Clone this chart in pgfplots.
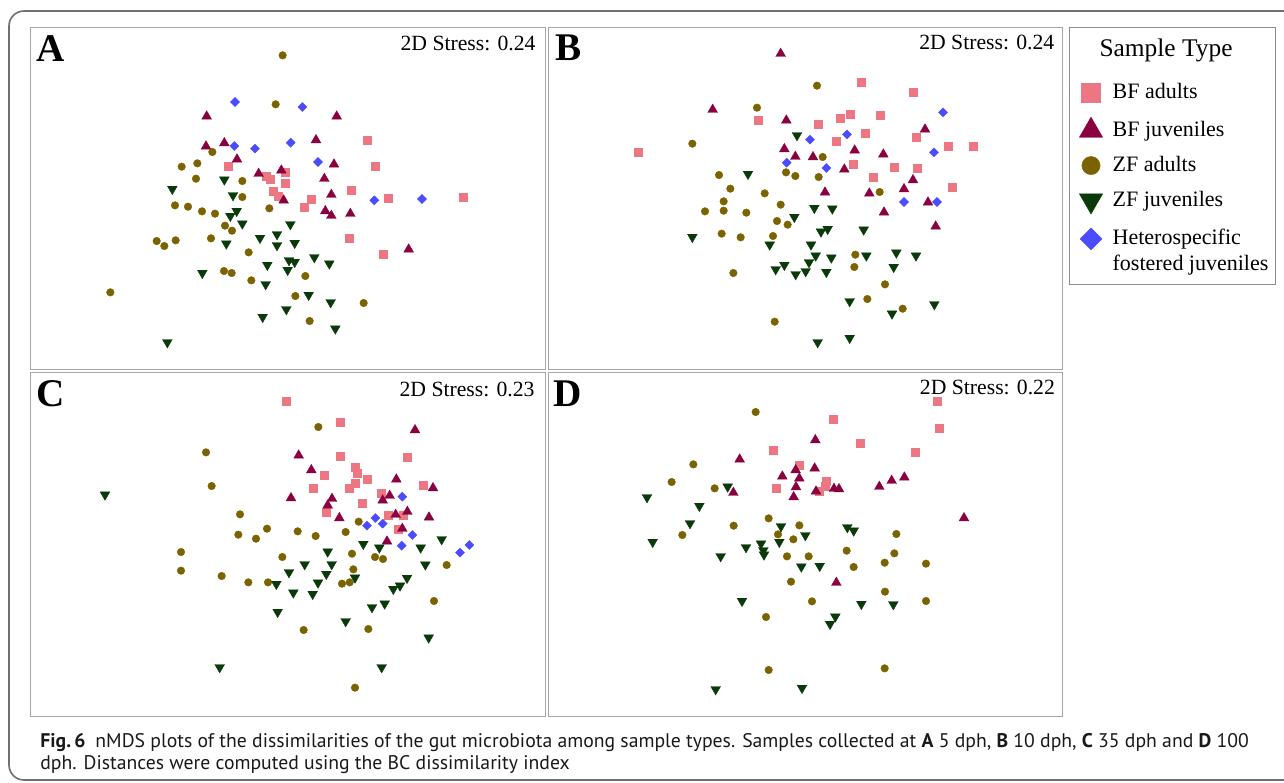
\documentclass[border=0pt]{standalone}
\usepackage{fontspec}
\setmainfont{Liberation Serif}
\newfontfamily\capfont{PT Sans}
\usepackage{pgfplots}
\pgfplotsset{compat=1.18}

\definecolor{bfa}{RGB}{236,118,130}
\definecolor{bfj}{RGB}{138,0,64}
\definecolor{zfa}{RGB}{122,99,0}
\definecolor{zfj}{RGB}{10,58,10}
\definecolor{het}{RGB}{75,75,255}
\definecolor{framegray}{RGB}{112,112,112}

% 1 px of the reference = 0.5pt; data are in 1/3 px units, y downwards
\pgfplotsset{
  panel/.style={
    scale only axis, anchor=north west,
    width=257.5pt, xmin=0, xmax=1545,
    ymin=0, y dir=reverse,
    xtick=\empty, ytick=\empty,
    axis line style={draw=black!35, line width=0.5pt},
    clip=false,
  },
  bfa/.style={only marks, mark=square*, mark size=2pt,
    mark options={draw=bfa, fill=bfa, line width=0.2pt}},
  bfj/.style={only marks, mark=triangle*, mark size=2.8pt,
    mark options={draw=bfj, fill=bfj, line width=0.2pt}},
  zfa/.style={only marks, mark=*, mark size=1.9pt,
    mark options={draw=zfa, fill=zfa, line width=0.2pt}},
  zfj/.style={only marks, mark=triangle*, mark size=2.8pt,
    mark options={rotate=180, draw=zfj, fill=zfj, line width=0.2pt}},
  het/.style={only marks, mark=square*, mark size=1.6pt,
    mark options={rotate=45, draw=het, fill=het, line width=0.2pt}},
}
\newcommand{\stress}{\fontsize{10.85}{12}\selectfont}
\newcommand{\letter}{\fontsize{19.6}{20}\selectfont\bfseries}
\newcommand{\capsize}{\capfont\fontsize{9.85}{11}\selectfont}

\begin{document}
\begin{tikzpicture}
\useasboundingbox (0,0) rectangle (642pt,-391pt);
\draw[framegray, line width=0.8pt, rounded corners=7.5pt] (4.5pt,-390pt) rectangle (670pt,-5.5pt);

% ---- A : 5 dph
\begin{axis}[panel, at={(15pt,-13.5pt)}, height=171pt, ymax=1026]
\addplot[bfa] coordinates {(1012,341) (1035,418) (596,417) (767,436) (710,448) (720,458) (765,470) (731,492) (745,507) (964,490) (845,517) (823,540) (1076,513) (1299,510) (958,635) (1060,681)};
\addplot[bfj] coordinates {(530,268) (920,268) (528,358) (583,348) (858,339) (621,397) (912,412) (686,440) (754,430) (883,455) (904,503) (761,520) (886,552) (904,566) (961,560) (1136,667)};
\addplot[zfa] coordinates {(758,85) (737,232) (547,375) (455,419) (502,409) (498,455) (637,462) (637,510) (435,535) (474,539) (516,553) (555,560) (718,544) (585,596) (606,611) (543,634) (380,642) (403,657) (437,640) (656,676) (582,732) (605,738) (664,760) (826,747) (796,807) (1001,828) (839,882) (241,796)};
\addplot[zfj] coordinates {(427,486) (583,458) (609,505) (620,552) (601,567) (637,590) (781,592) (741,622) (690,633) (589,650) (741,655) (794,648) (777,700) (794,705) (853,691) (898,710) (712,714) (773,729) (517,738) (707,772) (836,804) (902,826) (769,847) (698,870) (916,905) (412,946)};
\addplot[het] coordinates {(615,225) (817,240) (613,357) (675,365) (782,347) (864,405) (1033,520) (1176,516)};
\node[anchor=base west, inner sep=0pt, font=\letter] at (axis cs:18,102) {A};
\node[anchor=base east, inner sep=0pt, font=\stress] at (axis cs:1518,70) {2D Stress: 0.24};
\end{axis}

% ---- B : 10 dph (carries the legend)
\begin{axis}[panel, at={(274pt,-13.5pt)}, width=257pt, xmax=1542, height=171pt, ymax=1026,
  legend style={at={(1.033,0.84)}, anchor=north west, draw=none, fill=none,
    inner sep=0pt, row sep=7pt, column sep=5pt,
    font=\fontsize{11}{13}\selectfont,
    nodes={inner sep=0pt, text height=8pt, text depth=2.5pt}},
  legend cell align=left,
  legend image code/.code={\draw[mark repeat=2, mark phase=2, #1,
    every mark/.append style={scale=2.4}]
    plot coordinates {(0cm,0cm) (0.3cm,0cm) (0.6cm,0cm)};},
]
\addplot[bfa] coordinates {(940,165) (1097,196) (631,281) (811,293) (876,273) (907,263) (998,264) (953,318) (866,344) (1106,331) (1201,358) (1275,359) (917,411) (1040,421) (1108,423) (977,452) (1214,480) (271,376)};
\addlegendentry{BF adults}
\addplot[bfj] coordinates {(698,80) (494,248) (715,280) (709,366) (742,389) (795,390) (920,370) (1006,382) (1131,307) (889,427) (1095,459) (1068,486) (831,496) (964,499) (1140,526) (1008,556) (1163,598)};
\addlegendentry{BF juveniles}
\addplot[zfa] coordinates {(807,176) (627,242) (433,350) (824,390) (714,436) (742,447) (812,450) (513,444) (547,485) (650,499) (527,523) (471,553) (527,551) (595,557) (698,533) (687,582) (719,593) (521,620) (578,631) (675,627) (995,495) (922,683) (919,720) (556,738) (1011,772) (958,816) (1064,845) (680,884)};
\addlegendentry{ZF adults}
\addplot[zfj] coordinates {(747,325) (600,441) (433,630) (799,543) (853,545) (739,570) (819,614) (839,606) (947,608) (665,653) (789,653) (803,686) (850,692) (955,686) (1045,677) (1104,686) (783,706) (709,714) (683,727) (743,742) (773,733) (835,735) (1037,720) (905,823) (1032,860) (1159,832) (809,946) (905,933)};
\addlegendentry{ZF juveniles}
\addplot[het] coordinates {(786,338) (897,322) (1185,256) (1158,376) (716,407) (835,423) (1068,525) (1167,525)};
\addlegendentry{\begin{tabular}[t]{@{}l@{}}Heterospecific\\fostered juveniles\end{tabular}}
\node[anchor=base west, inner sep=0pt, font=\letter] at (axis cs:20,100) {B};
\node[anchor=base east, inner sep=0pt, font=\stress] at (axis cs:1520,68) {2D Stress: 0.24};
\end{axis}

% ---- C : 35 dph
\begin{axis}[panel, at={(15pt,-186pt)}, height=172pt, ymax=1032]
\addplot[bfa] coordinates {(770,88) (930,151) (932,252) (1132,255) (884,310) (976,286) (982,305) (1013,322) (976,335) (957,348) (850,348) (1180,340) (1055,365) (998,393) (888,421) (1074,430) (1121,430) (1104,471)};
\addplot[bfj] coordinates {(1155,174) (806,250) (844,294) (1099,322) (1209,348) (783,378) (906,380) (893,400) (1058,385) (1079,371) (928,438) (1097,428) (1132,419) (1197,436) (1117,470) (1071,508)};
\addplot[zfa] coordinates {(865,165) (528,241) (545,342) (630,427) (711,470) (625,488) (678,500) (803,478) (857,492) (947,480) (986,449) (453,540) (453,596) (757,555) (966,545) (1035,555) (1059,561) (575,612) (655,631) (714,631) (970,592) (936,635) (959,631) (1250,579) (1212,687) (821,774) (1015,771) (975,947)};
\addplot[zfj] coordinates {(225,368) (1000,516) (1048,527) (893,539) (1172,527) (1235,502) (824,577) (905,577) (1186,578) (777,601) (889,606) (975,617) (864,632) (739,636) (1131,618) (1110,641) (1090,651) (790,662) (848,666) (1026,706) (1064,695) (743,720) (947,748) (1196,797) (569,886) (1055,886)};
\addplot[het] coordinates {(1117,374) (1036,438) (1058,455) (1011,461) (1147,489) (1115,521) (1318,519) (1290,542)};
\node[anchor=base west, inner sep=0pt, font=\letter] at (axis cs:18,102) {C};
\node[anchor=base east, inner sep=0pt, font=\stress] at (axis cs:1515,72) {2D Stress: 0.23};
\end{axis}

% ---- D : 100 dph
\begin{axis}[panel, at={(274pt,-186pt)}, width=257pt, xmax=1542, height=172pt, ymax=1032]
\addplot[bfa] coordinates {(1167,88) (857,141) (1173,170) (938,215) (1101,242) (676,236) (754,280) (834,328) (832,342) (813,358) (685,348)};
\addplot[bfj] coordinates {(802,204) (575,262) (743,294) (800,289) (703,313) (754,319) (744,345) (737,375) (804,358) (858,350) (873,351) (994,344) (1031,326) (1069,316) (556,362) (1248,438) (865,632)};
\addplot[zfa] coordinates {(623,120) (436,277) (371,330) (500,349) (662,439) (557,461) (754,460) (403,489) (690,487) (736,502) (1045,486) (717,553) (782,553) (896,536) (1039,544) (1010,572) (917,585) (1134,575) (729,629) (1011,659) (792,688) (1134,687) (654,735) (662,894) (1010,889)};
\addplot[zfj] coordinates {(539,344) (297,376) (454,402) (426,454) (314,510) (518,553) (594,526) (639,515) (646,535) (648,548) (699,463) (694,510) (772,490) (898,466) (917,476) (760,584) (815,582) (582,687) (940,696) (1036,697) (862,734) (846,756) (503,952) (762,948)};
\node[anchor=base west, inner sep=0pt, font=\letter] at (axis cs:15,102) {D};
\node[anchor=base east, inner sep=0pt, font=\stress] at (axis cs:1522,66) {2D Stress: 0.22};
\end{axis}

% legend frame and title
\draw[black!45, line width=0.5pt] (534.5pt,-13.5pt) rectangle (637.5pt,-142pt);
\node[anchor=base, inner sep=0pt, font=\fontsize{12.7}{14}\selectfont] at (583pt,-28pt) {Sample Type};

% caption
\node[anchor=base west, inner sep=0pt, font=\capsize, text=black!90] at (20pt,-373.5pt)
  {\textbf{Fig.\,6}\enspace nMDS plots of the dissimilarities of the gut microbiota among sample types. Samples collected at \textbf{A} 5 dph, \textbf{B} 10 dph, \textbf{C} 35 dph and \textbf{D} 100};
\node[anchor=base west, inner sep=0pt, font=\capsize, text=black!90] at (20pt,-384.5pt)
  {dph. Distances were computed using the BC dissimilarity index};
\end{tikzpicture}
\end{document}
